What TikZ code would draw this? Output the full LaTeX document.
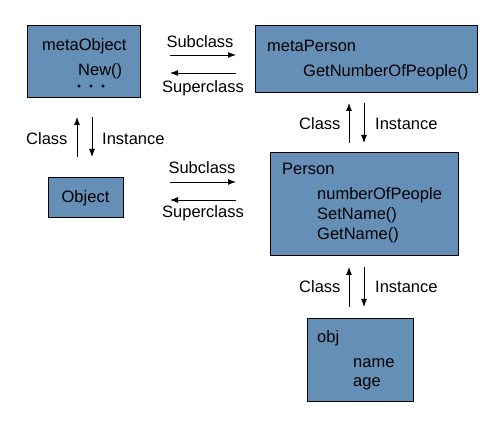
\documentclass[tikz,border=0pt]{standalone}
\usepackage{fontspec}
\setmainfont{Liberation Sans}
\usetikzlibrary{arrows.meta}
\definecolor{boxblue}{RGB}{102,143,184}
\begin{document}
\begin{tikzpicture}[x=1pt,y=-1pt,
  box/.style={draw=black,line width=0.9pt,fill=boxblue,inner sep=0pt,anchor=north west},
  txt/.style={anchor=base west,inner sep=0pt,font=\fontsize{16.5}{18}\selectfont},
  ctxt/.style={anchor=base,inner sep=0pt,font=\fontsize{16.5}{18}\selectfont},
  arr/.style={line width=0.9pt,-{Latex[length=8pt,width=6pt]}}]
\useasboundingbox (0,0) rectangle (503,427);
% boxes
\node[box,minimum width=113pt,minimum height=72pt] (metaObject) at (27,25) {};
\node[box,minimum width=75pt,minimum height=40pt] (Object) at (48,177) {};
\node[box,minimum width=222pt,minimum height=67pt] (metaPerson) at (255,25) {};
\node[box,minimum width=188pt,minimum height=103pt] (Person) at (270,152) {};
\node[box,minimum width=106pt,minimum height=83pt] (obj) at (307,318) {};
% box texts
\node[txt] (t1) at (42,51) {metaObject};
\node[txt] (t2) at (78,76) {New()};
\foreach \i/\x in {1/79,2/91,3/103}{\fill (\x,86) circle (1.6pt);}
\node[ctxt] (t3) at (85.5,203) {Object};
\node[txt] (t4) at (267,52) {metaPerson};
\node[txt] (t5) at (303,77) {GetNumberOfPeople()};
\node[txt] (t6) at (282,175) {Person};
\node[txt] (t7) at (317,200) {numberOfPeople};
\node[txt] (t8) at (317,220) {SetName()};
\node[txt] (t9) at (317,240) {GetName()};
\node[txt] (t10) at (317,343) {obj};
\node[txt] (t11) at (353,367) {name};
\node[txt] (t12) at (353,386) {age};
% horizontal arrows
\coordinate (a1) at (170,55); \coordinate (a2) at (236,55);
\coordinate (b1) at (236,73); \coordinate (b2) at (170,73);
\coordinate (c1) at (170,182); \coordinate (c2) at (236,182);
\coordinate (d1) at (236,200); \coordinate (d2) at (170,200);
\draw[arr] (a1) -- (a2);
\draw[arr] (b1) -- (b2);
\draw[arr] (c1) -- (c2);
\draw[arr] (d1) -- (d2);
\node[ctxt] (l1) at (200,48) {Subclass};
\node[ctxt] (l2) at (203,93) {Superclass};
\node[ctxt] (l3) at (202,174) {Subclass};
\node[ctxt] (l4) at (203,218) {Superclass};
% vertical arrows
\coordinate (e1) at (77,157); \coordinate (e2) at (77,117);
\coordinate (f1) at (92,117); \coordinate (f2) at (92,157);
\draw[arr] (e1) -- (e2);
\draw[arr] (f1) -- (f2);
\node[txt] (l5) at (26,145) {Class};
\node[txt] (l6) at (102,145) {Instance};
\coordinate (g1) at (349,143); \coordinate (g2) at (349,103);
\coordinate (h1) at (364,103); \coordinate (h2) at (364,143);
\draw[arr] (g1) -- (g2);
\draw[arr] (h1) -- (h2);
\node[txt] (l7) at (299,130) {Class};
\node[txt] (l8) at (375,130) {Instance};
\coordinate (i1) at (349,307); \coordinate (i2) at (349,267);
\coordinate (j1) at (364,267); \coordinate (j2) at (364,307);
\draw[arr] (i1) -- (i2);
\draw[arr] (j1) -- (j2);
\node[txt] (l9) at (299,293) {Class};
\node[txt] (l10) at (375,293) {Instance};
\end{tikzpicture}
\end{document}
